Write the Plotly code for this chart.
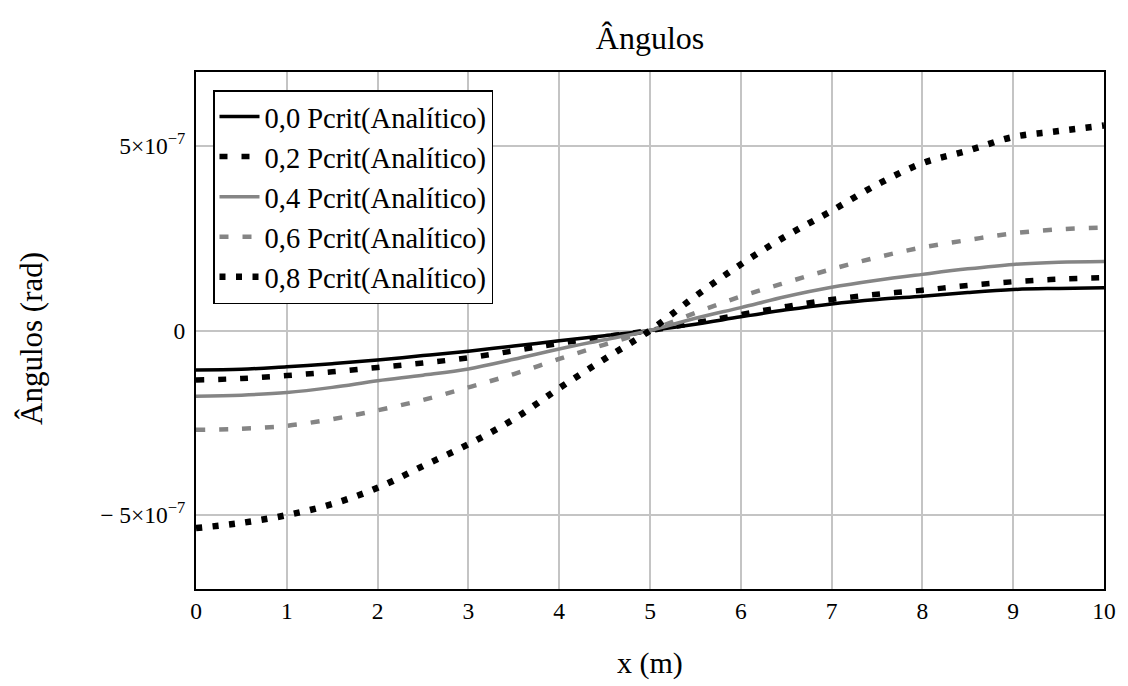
import plotly.graph_objects as go

# x positions (m)
x_m = [0, 0.5, 1, 1.5, 2, 2.5, 3, 3.5, 4, 4.5, 5, 5.5, 6, 6.5, 7, 7.5, 8, 8.5, 9, 9.5, 10]

# Angles in units of 1e-7 rad
s00 = [-1.07, -1.05, -0.98, -0.90, -0.80, -0.68, -0.56, -0.42, -0.28, -0.14, 0.0,
       0.17, 0.37, 0.56, 0.72, 0.84, 0.93, 1.03, 1.11, 1.14, 1.16]
s02 = [-1.34, -1.30, -1.22, -1.12, -1.00, -0.88, -0.74, -0.55, -0.35, -0.17, 0.0,
       0.21, 0.43, 0.65, 0.84, 0.98, 1.09, 1.22, 1.32, 1.39, 1.43]
s04 = [-1.78, -1.75, -1.68, -1.54, -1.36, -1.21, -1.04, -0.78, -0.50, -0.25, 0.0,
       0.33, 0.62, 0.92, 1.17, 1.36, 1.52, 1.67, 1.79, 1.85, 1.87]
s06 = [-2.69, -2.66, -2.58, -2.40, -2.16, -1.88, -1.54, -1.18, -0.77, -0.38, 0.0,
       0.48, 0.92, 1.30, 1.66, 1.98, 2.25, 2.45, 2.63, 2.74, 2.79]
s08 = [-5.35, -5.21, -5.00, -4.70, -4.26, -3.67, -3.08, -2.40, -1.56, -0.77, 0.0,
       0.93, 1.79, 2.56, 3.24, 3.95, 4.53, 4.87, 5.24, 5.40, 5.55]

series_names = ["0,0 Pcrit(Analítico)", "0,2 Pcrit(Analítico)", "0,4 Pcrit(Analítico)",
                "0,6 Pcrit(Analítico)", "0,8 Pcrit(Analítico)"]

y_tickvals = [-5e-7, 0, 5e-7]
y_ticktext = ["\u2212 5×10<sup>\u22127</sup>", "0", "5×10<sup>\u22127</sup>"]
x_tickvals = list(range(0, 11))

SCALE = 1e-7
FONT = "Liberation Serif, Times New Roman, serif"
GREY = "#858585"

# plot-area geometry (px)
L, R, T, B = 196, 1104, 72, 589
W, H = 1128, 686

styles = [
    dict(color="black", width=3.5, dash="solid"),
    dict(color="black", width=5.5, dash="8px,14px"),
    dict(color=GREY, width=3.5, dash="solid"),
    dict(color=GREY, width=4.5, dash="9px,14px"),
    dict(color="black", width=6.5, dash="6px,10.5px"),
]

fig = go.Figure()
for name, vals, st in zip(series_names, [s00, s02, s04, s06, s08], styles):
    fig.add_trace(go.Scatter(
        x=x_m, y=[v * SCALE for v in vals], mode="lines", name=name,
        line=dict(color=st["color"], width=st["width"], dash=st["dash"]),
        line_shape="spline",
    ))

fig.update_layout(
    width=W, height=H,
    margin=dict(l=L, r=W - R, t=T, b=H - B),
    paper_bgcolor="white", plot_bgcolor="white",
    font=dict(family=FONT, color="black", size=23),
    title=dict(text="Ângulos", x=(L + R) / 2 / W, xanchor="center",
               y=1 - 38 / H, yanchor="middle", font=dict(size=32, family=FONT)),
    showlegend=True,
    legend=dict(x=(213 - L) / (R - L), y=1 - (90 - T) / (B - T), xanchor="left", yanchor="top",
                bgcolor="white", bordercolor="black", borderwidth=1.5,
                font=dict(size=28.5, family=FONT), itemwidth=40,
                tracegroupgap=0),
)

fig.update_xaxes(
    range=[0, 10], tickvals=x_tickvals, showgrid=True, gridcolor="#c4c4c4", gridwidth=1.5,
    zeroline=False, showline=True, linecolor="black", linewidth=2, mirror=True,
    ticks="", tickfont=dict(size=23.5, family=FONT), ticklabelstandoff=0,
)
fig.update_yaxes(
    range=[-7e-7, 7e-7], tickvals=y_tickvals, ticktext=y_ticktext,
    showgrid=True, gridcolor="#c4c4c4", gridwidth=1.5,
    zeroline=False, showline=True, linecolor="black", linewidth=2, mirror=True,
    ticks="", tickfont=dict(size=23.5, family=FONT), ticklabelstandoff=4,
)

fig.add_annotation(text="Ângulos (rad)", xref="paper", yref="paper",
                   x=(31 - L) / (R - L), y=(B - 339) / (B - T), xanchor="center", yanchor="middle",
                   textangle=-90, showarrow=False, font=dict(size=31, family=FONT))
fig.add_annotation(text="x (m)", xref="paper", yref="paper",
                   x=0.5, y=-(663 - B) / (B - T), xanchor="center", yanchor="middle",
                   showarrow=False, font=dict(size=30, family=FONT))

fig.write_html("out.html", config={"displayModeBar": False},
               post_script="document.body.style.margin='0';")
